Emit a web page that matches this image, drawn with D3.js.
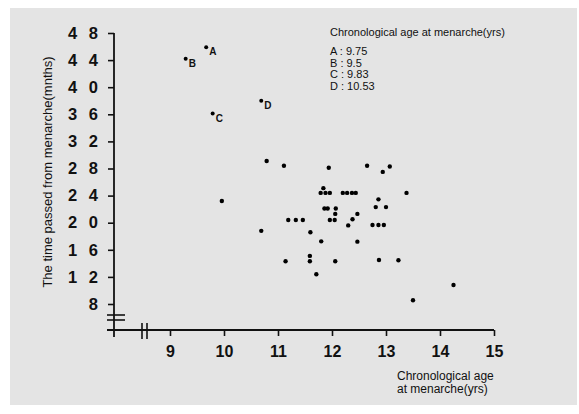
<!DOCTYPE html>
<html>
<head>
<meta charset="utf-8">
<script src="https://cdn.jsdelivr.net/npm/d3@7"></script>
<style>
  body { margin: 0; background: #fff; }
  text { font-family: "Liberation Sans", Arial, sans-serif; fill: #111; }
</style>
</head>
<body>
<script>
// labelled cases
var caseLabels = ['A', 'B', 'C', 'D'];
var caseAges = [9.67, 9.29, 9.79, 10.69];
var caseMonths = [45.9, 44.2, 36.1, 38.0];
var caseLegend = ['9.75', '9.5', '9.83', '10.53'];

// the other girls
var ages = [10.79, 11.11, 11.94, 12.65, 13.07, 12.94, 9.96, 11.84, 11.79, 11.88,
  11.96, 12.20, 12.28, 12.37, 12.44, 13.38, 12.86, 12.81, 13.00, 11.86,
  11.92, 12.07, 12.06, 12.47, 12.38, 11.19, 11.33, 11.46, 11.96, 12.05,
  12.30, 12.75, 12.86, 12.96, 10.69, 11.60, 11.80, 12.47, 11.59, 11.59,
  11.14, 12.06, 12.87, 13.23, 11.71, 14.25, 13.50];
var months = [29.1, 28.4, 28.1, 28.4, 28.3, 27.5, 23.2, 25.1, 24.4, 24.4,
  24.4, 24.4, 24.4, 24.4, 24.4, 24.4, 23.45, 22.3, 22.3, 22.1,
  22.1, 22.1, 21.3, 21.3, 20.5, 20.4, 20.4, 20.4, 20.4, 20.4,
  19.6, 19.65, 19.65, 19.65, 18.8, 18.6, 17.25, 17.2, 15.1, 14.3,
  14.3, 14.3, 14.5, 14.45, 12.4, 10.8, 8.55];

var xTicks = [9, 10, 11, 12, 13, 14, 15];
var yTicks = [8, 12, 16, 20, 24, 28, 32, 36, 40, 44, 48];

var w = 579, h = 414;

var svg = d3.select('body').append('svg')
  .attr('width', w)
  .attr('height', h);

// printed page tone
svg.append('rect')
  .attr('x', 10).attr('y', 8)
  .attr('width', 567).attr('height', 397)
  .attr('fill', '#e4e4e4');

var x = d3.scaleLinear().domain([9, 15]).range([170, 494]);
var y = d3.scaleLinear().domain([8, 48]).range([304, 33]);

var axisX = 114, axisY = 330;

// y axis, digits printed spread apart
var gy = svg.append('g')
  .attr('transform', 'translate(' + axisX + ',0)')
  .call(d3.axisLeft(y)
    .tickValues(yTicks)
    .tickSize(6)
    .tickPadding(10)
    .tickFormat(function(d) { return String(d).split('').join('\u2002\u2009'); }));
gy.select('.domain').remove();
gy.selectAll('line').attr('stroke', '#111').attr('stroke-width', 1.6);
gy.selectAll('text')
  .attr('font-size', '16.5px')
  .attr('font-weight', 'bold');

svg.append('line')
  .attr('x1', axisX).attr('x2', axisX)
  .attr('y1', y(48)).attr('y2', axisY + 7)
  .attr('stroke', '#111').attr('stroke-width', 1.8);

// y break marks
[315, 320].forEach(function(v) {
  svg.append('line')
    .attr('x1', axisX - 7).attr('x2', axisX + 11)
    .attr('y1', v).attr('y2', v)
    .attr('stroke', '#111').attr('stroke-width', 1.6);
});

// x axis
var gx = svg.append('g')
  .attr('transform', 'translate(0,' + axisY + ')')
  .call(d3.axisBottom(x)
    .tickValues(xTicks)
    .tickSize(6)
    .tickPadding(10)
    .tickFormat(d3.format('d')));
gx.select('.domain').remove();
gx.selectAll('line').attr('stroke', '#111').attr('stroke-width', 1.6);
gx.selectAll('text')
  .attr('font-size', '16px')
  .attr('font-weight', 'bold');

svg.append('line')
  .attr('x1', axisX - 7).attr('x2', x(15))
  .attr('y1', axisY).attr('y2', axisY)
  .attr('stroke', '#111').attr('stroke-width', 1.8);

// x break marks
[142, 147].forEach(function(v) {
  svg.append('line')
    .attr('x1', v).attr('x2', v)
    .attr('y1', axisY - 7).attr('y2', axisY + 9)
    .attr('stroke', '#111').attr('stroke-width', 1.6);
});

// points
var pts = ages.map(function(a, i) { return { age: a, m: months[i] }; });
svg.selectAll('circle.pt')
  .data(pts)
  .enter()
  .append('circle')
    .attr('class', 'pt')
    .attr('cx', function(d) { return x(d.age); })
    .attr('cy', function(d) { return y(d.m); })
    .attr('r', 2.2)
    .attr('fill', '#000');

var cases = caseLabels.map(function(l, i) {
  return { label: l, age: caseAges[i], m: caseMonths[i] };
});
svg.selectAll('circle.case')
  .data(cases)
  .enter()
  .append('circle')
    .attr('class', 'case')
    .attr('cx', function(d) { return x(d.age); })
    .attr('cy', function(d) { return y(d.m); })
    .attr('r', 2)
    .attr('fill', '#000');
svg.selectAll('text.case')
  .data(cases)
  .enter()
  .append('text')
    .attr('class', 'case')
    .attr('x', function(d) { return x(d.age) + 3; })
    .attr('y', function(d) { return y(d.m) + 8; })
    .attr('font-size', '10px')
    .attr('font-weight', 'bold')
    .text(function(d) { return d.label; });

// legend
svg.append('text')
  .attr('x', 330).attr('y', 36)
  .attr('font-size', '11px')
  .text('Chronological age at menarche(yrs)');
caseLabels.forEach(function(l, i) {
  svg.append('text')
    .attr('x', 330).attr('y', 55 + i * 11.7)
    .attr('font-size', '11px')
    .text(l + ' : ' + caseLegend[i]);
});

// axis titles
svg.append('text')
  .attr('transform', 'translate(52,172) rotate(-90)')
  .attr('text-anchor', 'middle')
  .attr('font-size', '13px')
  .text('The time passed from menarche(mnths)');

svg.append('text')
  .attr('x', 397).attr('y', 380)
  .attr('font-size', '12px')
  .text('Chronological age');
svg.append('text')
  .attr('x', 397).attr('y', 393)
  .attr('font-size', '12px')
  .text('at menarche(yrs)');
</script>
</body>
</html>
